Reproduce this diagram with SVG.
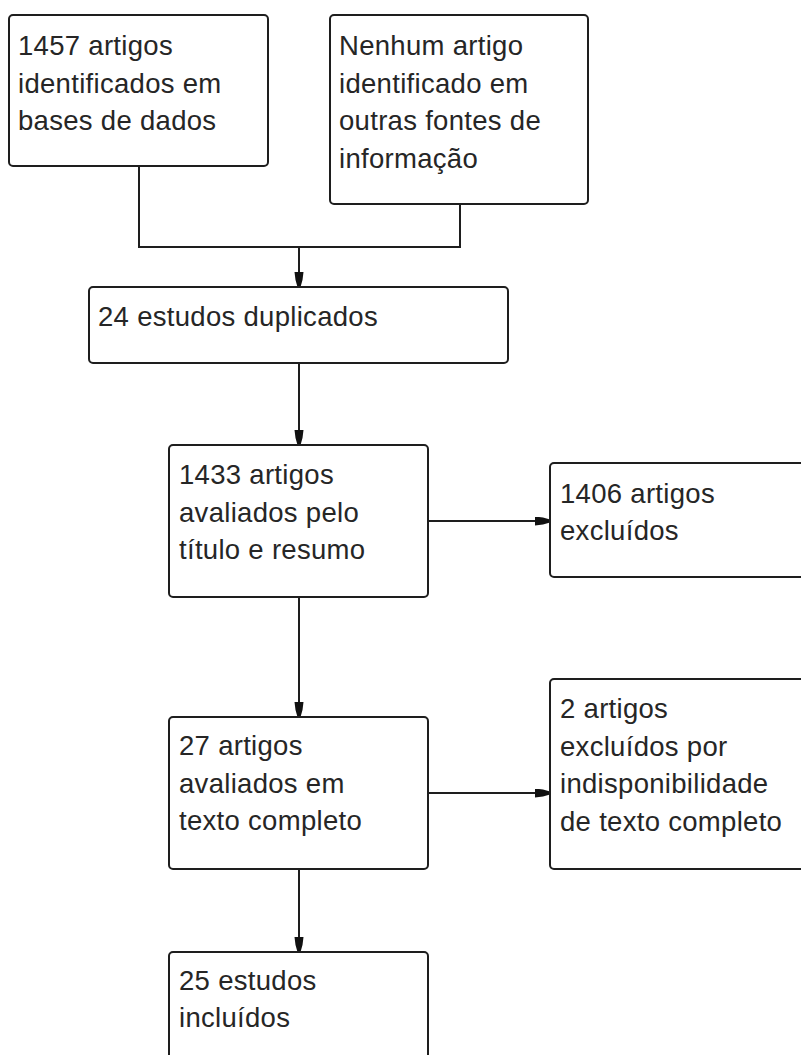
<svg xmlns="http://www.w3.org/2000/svg" width="801" height="1055" viewBox="0 0 801 1055">
<style>
.box{fill:#ffffff;stroke:#1e1e1e;stroke-width:2}
.t{font-family:"Liberation Sans",Arial,sans-serif;font-size:27.5px;fill:#262626;letter-spacing:0.3px}
.c{fill:none;stroke:#1e1e1e;stroke-width:2}
</style>
<defs>
<marker id="ah" markerUnits="userSpaceOnUse" markerWidth="16" markerHeight="10" refX="15" refY="4.5" orient="auto">
<path d="M0,0 L8,1 L15,3 L15,6 L8,8 L0,9 Z" fill="#111111"/>
</marker>
</defs>
<rect width="801" height="1055" fill="#ffffff"/>
<g id="connectors">
<path class="c" d="M139,166 V247 H460 V204"/>
<path class="c" d="M299,247 V287" marker-end="url(#ah)"/>
<path class="c" d="M299,363 V445" marker-end="url(#ah)"/>
<path class="c" d="M428,521 H550" marker-end="url(#ah)"/>
<path class="c" d="M299,597 V717" marker-end="url(#ah)"/>
<path class="c" d="M428,793 H550" marker-end="url(#ah)"/>
<path class="c" d="M299,869 V952" marker-end="url(#ah)"/>
</g>
<g id="n1">
<rect class="box" x="9" y="15" width="259" height="151" rx="4"/>
<text class="t" x="18" y="55">1457 artigos</text>
<text class="t" x="18" y="92.5">identificados em</text>
<text class="t" x="18" y="130">bases de dados</text>
</g>
<g id="n2">
<rect class="box" x="330" y="15" width="258" height="189" rx="4"/>
<text class="t" x="339" y="55">Nenhum artigo</text>
<text class="t" x="339" y="92.5">identificado em</text>
<text class="t" x="339" y="130">outras fontes de</text>
<text class="t" x="339" y="167.5">informação</text>
</g>
<g id="n3">
<rect class="box" x="89" y="287" width="419" height="76" rx="4"/>
<text class="t" x="98" y="326">24 estudos duplicados</text>
</g>
<g id="n4">
<rect class="box" x="169" y="445" width="259" height="152" rx="4"/>
<text class="t" x="179" y="484">1433 artigos</text>
<text class="t" x="179" y="521.5">avaliados pelo</text>
<text class="t" x="179" y="559">título e resumo</text>
</g>
<g id="n5">
<rect class="box" x="550" y="463" width="270" height="114" rx="4"/>
<text class="t" x="560" y="503">1406 artigos</text>
<text class="t" x="560" y="540">excluídos</text>
</g>
<g id="n6">
<rect class="box" x="169" y="717" width="259" height="152" rx="4"/>
<text class="t" x="179" y="755">27 artigos</text>
<text class="t" x="179" y="792.5">avaliados em</text>
<text class="t" x="179" y="830">texto completo</text>
</g>
<g id="n7">
<rect class="box" x="550" y="679" width="270" height="190" rx="4"/>
<text class="t" x="560" y="718">2 artigos</text>
<text class="t" x="560" y="755.5">excluídos por</text>
<text class="t" x="560" y="793">indisponibilidade</text>
<text class="t" x="560" y="830.5">de texto completo</text>
</g>
<g id="n8">
<rect class="box" x="169" y="952" width="259" height="130" rx="4"/>
<text class="t" x="179" y="990">25 estudos</text>
<text class="t" x="179" y="1027">incluídos</text>
</g>
</svg>
